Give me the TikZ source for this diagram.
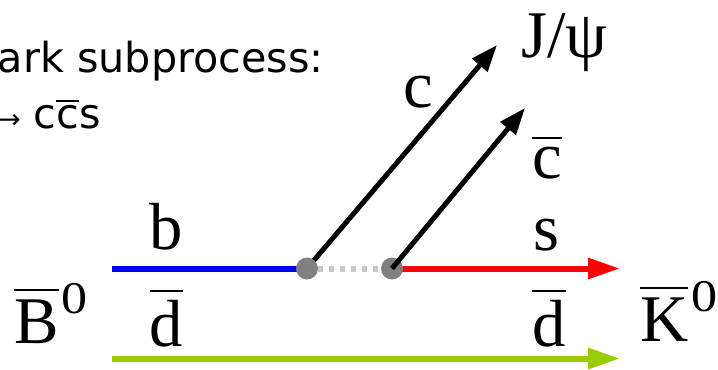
\documentclass[tikz,border=0pt]{standalone}
\usepackage{fix-cm}
\usepackage{fontspec}
\setmainfont{Liberation Serif}
\newfontfamily\labsans{DejaVu Sans}
\usetikzlibrary{arrows.meta}
\definecolor{qblue}{RGB}{0,0,255}
\definecolor{qred}{RGB}{255,0,0}
\definecolor{qgreen}{RGB}{153,204,0}
\definecolor{vgray}{RGB}{128,128,128}
\definecolor{lgray}{RGB}{200,200,200}
\newcommand\obar[3]{\leavevmode\vbox{\hrule height #1\kern #2\hbox{#3}}}
\newcommand\ovl[1]{\obar{1.5pt}{6pt}{#1}}
\tikzset{
  lab/.style={font=\fontsize{50}{60}\selectfont, inner sep=0pt, anchor=base},
  hadron/.style={font=\fontsize{50}{60}\selectfont, inner sep=0pt, anchor=base west},
  sanstext/.style={font=\labsans\fontsize{31}{37}\selectfont, inner sep=0pt, anchor=base west},
  quark/.style={line width=4.5pt},
  vtx/.style={circle, fill=vgray, inner sep=0pt, minimum size=16.5pt},
  mom/.style={line width=3.75pt, -{Triangle[length=20pt,width=14.5pt]}},
  flow/.style={quark, -{Triangle[length=24pt,width=15pt]}},
}
\newcommand\supz{\kern2pt\raisebox{22pt}{\fontsize{34}{40}\selectfont\scalebox{1.15}[1]{0}}}
\begin{document}
\begin{tikzpicture}[x=0.75pt,y=-0.75pt]
\useasboundingbox (0,0) rectangle (718,369);
\clip (0,0) rectangle (718,369);
% text
\node[sanstext] (t1) at (-2.5,72) {ark subprocess:};
\node[sanstext] (t2) at (-2,128) {{\fontsize{20}{24}\selectfont →}\ c\obar{1.2pt}{2.5pt}{c}s};
% coordinates
\coordinate (bstart) at (112,268.5);
\coordinate (dstart) at (112,358.5);
\coordinate (stip) at (620,268.5);
\coordinate (dtip) at (620,358.5);
\coordinate (jtip) at (497,45);
\coordinate (ctip) at (525,108);
\coordinate (p1) at (307,268.5);
\coordinate (p2) at (392,268.5);
% lines
\draw[mom] (p1) -- (jtip);
\draw[quark, qblue] (bstart) -- (p1);
\draw[line width=4.5pt, lgray, dash pattern=on 3.75pt off 4.5pt] (p1) -- (p2);
\draw[flow, qred] (p2) -- (stip);
\draw[flow, qgreen] (dstart) -- (dtip);
\node[vtx] (v1) at (p1) {};
\node[vtx] (v2) at (p2) {};
\draw[mom] (v2.center) -- (ctip);
% labels
\node[lab] (lb) at (166.5,249) {b};
\node[lab] (lc) at (418.5,107) {c};
\node[lab] (ljpsi) at (564.5,57) {J/ψ};
\node[lab] (lcbar) at (547,178) {\ovl{c}};
\node[lab] (ls) at (546.5,250) {s};
\node[lab] (ld1) at (166.5,346) {\ovl{d}};
\node[lab] (ld2) at (549,346) {\ovl{d}};
\node[hadron] (B0) at (14,343) {\ovl{B}\supz};
\node[hadron] (K0) at (640,341) {\ovl{K}\supz};
\end{tikzpicture}
\end{document}
